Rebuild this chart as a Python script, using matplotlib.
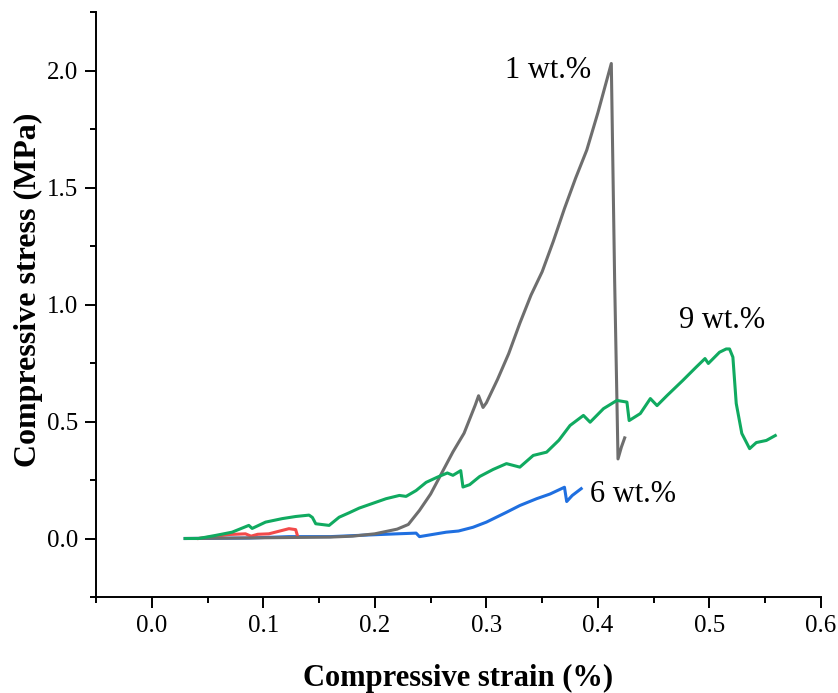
import numpy as np
import matplotlib.pyplot as plt
from matplotlib.ticker import MultipleLocator

plt.rcParams["font.family"] = ["Liberation Serif", "DejaVu Serif"]

# 1 wt.% --------------------------------------------------------------
strain_1 = [0.030, 0.080, 0.120, 0.160, 0.180, 0.200, 0.220, 0.230, 0.240, 0.250,
            0.260, 0.270, 0.280, 0.290, 0.293, 0.297, 0.300, 0.310, 0.320, 0.330,
            0.340, 0.350, 0.360, 0.370, 0.380, 0.390, 0.400, 0.412, 0.415, 0.417,
            0.418, 0.421, 0.424]
stress_1 = [0.000, 0.002, 0.004, 0.006, 0.010, 0.020, 0.040, 0.060, 0.120, 0.190,
            0.280, 0.370, 0.450, 0.570, 0.610, 0.560, 0.580, 0.680, 0.790, 0.920,
            1.040, 1.140, 1.270, 1.410, 1.540, 1.660, 1.820, 2.030, 1.100, 0.600,
            0.340, 0.390, 0.430]

# 9 wt.% --------------------------------------------------------------
strain_9 = [0.030, 0.042, 0.057, 0.072, 0.087, 0.090, 0.102, 0.117, 0.129, 0.141,
            0.144, 0.147, 0.159, 0.168, 0.177, 0.186, 0.198, 0.210, 0.222, 0.228,
            0.237, 0.246, 0.256, 0.265, 0.270, 0.277, 0.279, 0.285, 0.294, 0.306,
            0.318, 0.330, 0.342, 0.354, 0.365, 0.375, 0.387, 0.393, 0.405, 0.417,
            0.426, 0.428, 0.438, 0.447, 0.453, 0.462, 0.476, 0.488, 0.496, 0.499,
            0.509, 0.515, 0.518, 0.521, 0.524, 0.529, 0.536, 0.542, 0.551, 0.559]
stress_9 = [0.000, 0.000, 0.013, 0.027, 0.056, 0.043, 0.070, 0.085, 0.094, 0.100,
            0.090, 0.063, 0.056, 0.091, 0.110, 0.130, 0.150, 0.170, 0.184, 0.180,
            0.205, 0.240, 0.262, 0.280, 0.270, 0.290, 0.220, 0.230, 0.265, 0.295,
            0.320, 0.305, 0.355, 0.369, 0.420, 0.483, 0.526, 0.497, 0.555, 0.590,
            0.583, 0.504, 0.534, 0.598, 0.568, 0.611, 0.675, 0.732, 0.769, 0.748,
            0.796, 0.810, 0.810, 0.775, 0.577, 0.449, 0.384, 0.410, 0.419, 0.440]

# 6 wt.% --------------------------------------------------------------
strain_6 = [0.030, 0.087, 0.123, 0.160, 0.189, 0.220, 0.237, 0.240, 0.264, 0.275,
            0.288, 0.300, 0.318, 0.330, 0.345, 0.357, 0.370, 0.372, 0.377, 0.385]
stress_6 = [0.000, 0.002, 0.008, 0.008, 0.014, 0.020, 0.023, 0.008, 0.027, 0.032,
            0.048, 0.070, 0.112, 0.141, 0.170, 0.190, 0.219, 0.158, 0.184, 0.213]

# red sample ----------------------------------------------------------
strain_r = [0.042, 0.055, 0.069, 0.084, 0.089, 0.095, 0.105, 0.114, 0.123, 0.129,
            0.131]
stress_r = [0.000, 0.008, 0.017, 0.020, 0.010, 0.018, 0.020, 0.031, 0.042, 0.038,
            0.006]

labels = ["1 wt.%", "9 wt.%", "6 wt.%"]
label_pos = [(0.394, 2.0, "right"), (0.473, 0.93, "left"), (0.393, 0.19, "left")]

fig = plt.figure(figsize=(8.38, 6.93), dpi=100)
ax = fig.add_axes([96 / 838, 96 / 693, 725 / 838, 585 / 693])

ax.plot(strain_6, stress_6, color="#1f6fe0", lw=2.2)
ax.plot(strain_r, stress_r, color="#f24a4a", lw=2.2)
ax.plot(strain_1, stress_1, color="#6e6e6e", lw=2.2)
ax.plot(strain_9, stress_9, color="#10aa60", lw=2.2)

for text, (x, y, ha) in zip(labels, label_pos):
    ax.text(x, y, text, fontsize=22, ha=ha, va="center")

ax.set_xlim(-0.05, 0.6)
ax.set_ylim(-0.25, 2.25)
ax.xaxis.set_major_locator(MultipleLocator(0.1))
ax.xaxis.set_minor_locator(MultipleLocator(0.05))
ax.yaxis.set_major_locator(MultipleLocator(0.5))
ax.yaxis.set_minor_locator(MultipleLocator(0.25))

for side in ["top", "right"]:
    ax.spines[side].set_visible(False)
for side in ["left", "bottom"]:
    ax.spines[side].set_linewidth(1.4)

ax.tick_params(which="major", direction="out", length=8, width=1.4, labelsize=18, pad=5)
ax.tick_params(which="minor", direction="out", length=4.5, width=1.4)

ax.set_xlabel("Compressive strain (%)", fontsize=22, fontweight="bold", labelpad=19)
ax.set_ylabel("Compressive stress (MPa)", fontsize=23, fontweight="bold")
ax.yaxis.set_label_coords(-0.073, 0.525)

fig.savefig("out.png", dpi=100)
